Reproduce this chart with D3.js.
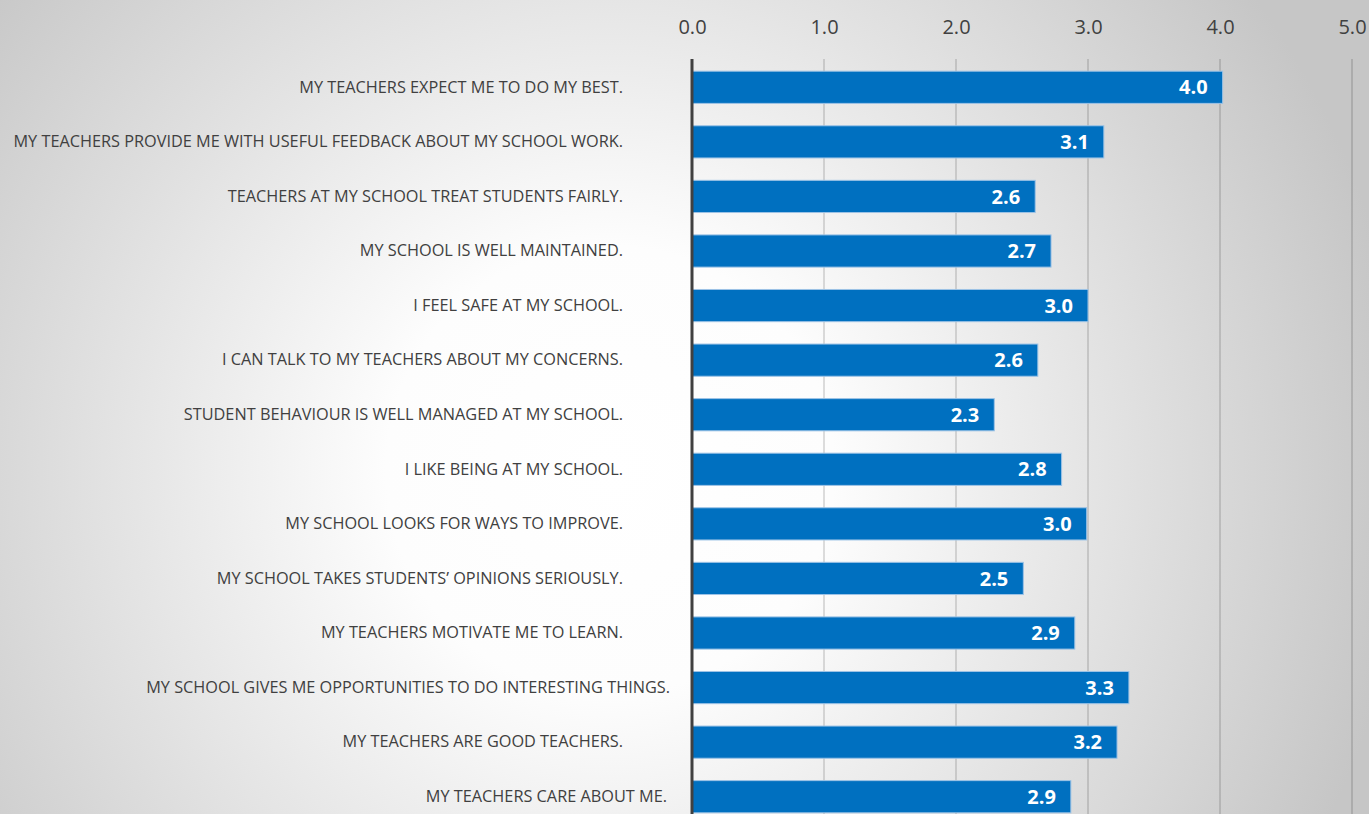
<!DOCTYPE html>
<html>
<head>
<meta charset="utf-8">
<script src="https://cdn.jsdelivr.net/npm/d3@7"></script>
<style>
html,body{margin:0;padding:0;overflow:hidden;}
svg{display:block;}
</style>
</head>
<body>
<svg id="chart" width="1369" height="814"></svg>
<script>
const categories = [
  "MY TEACHERS EXPECT ME TO DO MY BEST.",
  "MY TEACHERS PROVIDE ME WITH USEFUL FEEDBACK ABOUT MY SCHOOL WORK.",
  "TEACHERS AT MY SCHOOL TREAT STUDENTS FAIRLY.",
  "MY SCHOOL IS WELL MAINTAINED.",
  "I FEEL SAFE AT MY SCHOOL.",
  "I CAN TALK TO MY TEACHERS ABOUT MY CONCERNS.",
  "STUDENT BEHAVIOUR IS WELL MANAGED AT MY SCHOOL.",
  "I LIKE BEING AT MY SCHOOL.",
  "MY SCHOOL LOOKS FOR WAYS TO IMPROVE.",
  "MY SCHOOL TAKES STUDENTS\u2019 OPINIONS SERIOUSLY.",
  "MY TEACHERS MOTIVATE ME TO LEARN.",
  "MY SCHOOL GIVES ME OPPORTUNITIES TO DO INTERESTING THINGS.",
  "MY TEACHERS ARE GOOD TEACHERS.",
  "MY TEACHERS CARE ABOUT ME."
];
const values = [4.02, 3.12, 2.60, 2.72, 3.00, 2.62, 2.29, 2.80, 2.99, 2.51, 2.90, 3.31, 3.22, 2.87];
const valueLabels = ["4.0","3.1","2.6","2.7","3.0","2.6","2.3","2.8","3.0","2.5","2.9","3.3","3.2","2.9"];
const tickValues = [0, 1, 2, 3, 4, 5];

const W = 1369, H = 814;
const svg = d3.select("#chart");

const defs = svg.append("defs");
const grad = defs.append("radialGradient")
  .attr("id", "bg").attr("gradientUnits", "userSpaceOnUse")
  .attr("cx", 610).attr("cy", 470).attr("r", 800);
grad.append("stop").attr("offset", 0).attr("stop-color", "#ffffff");
grad.append("stop").attr("offset", 0.28).attr("stop-color", "#fdfdfd");
grad.append("stop").attr("offset", 1).attr("stop-color", "#c6c6c6");
svg.append("rect").attr("width", W).attr("height", H).attr("fill", "url(#bg)");

const x = d3.scaleLinear().domain([0, 5]).range([692, 1352]);
const y = d3.scaleBand().domain(categories).range([60, 824]).paddingInner(0.41).paddingOuter(0.205);

// gridlines
svg.append("g").selectAll("line").data(tickValues.filter(d => d > 0)).join("line")
  .attr("x1", d => x(d)).attr("x2", d => x(d))
  .attr("y1", 59).attr("y2", H)
  .attr("stroke", "rgba(0,0,0,0.2)").attr("stroke-width", 1.3);

// top axis
const xAxis = d3.axisTop(x).tickValues(tickValues).tickFormat(d3.format(".1f")).tickSize(0).tickPadding(0);
const ax = svg.append("g").attr("transform", "translate(0,34)").call(xAxis);
ax.select(".domain").remove();
ax.selectAll("text").attr("font-family", "'Open Sans', sans-serif").attr("font-size", 20).attr("fill", "#404040");

// bars
svg.append("g").selectAll("rect").data(values).join("rect")
  .attr("x", x(0)).attr("y", (d, i) => y(categories[i]))
  .attr("width", d => x(d) - x(0)).attr("height", y.bandwidth())
  .attr("fill", "#0070C0").attr("stroke", "#9DC3E6").attr("stroke-width", 1);

// value labels
svg.append("g").selectAll("text").data(values).join("text")
  .attr("x", d => x(d) - 15).attr("y", (d, i) => y(categories[i]) + y.bandwidth() / 2)
  .attr("dy", "0.36em").attr("text-anchor", "end")
  .attr("font-family", "'Open Sans', sans-serif").attr("font-weight", "bold").attr("font-size", 20)
  .attr("fill", "#ffffff").text((d, i) => valueLabels[i]);

// category labels (two labels in the original sit further right)
const labelNudge = { 11: 47, 13: 44 };
const yAxis = d3.axisLeft(y).tickSize(0).tickPadding(0);
const ay = svg.append("g").attr("transform", "translate(623,0)").call(yAxis);
ay.select(".domain").remove();
ay.selectAll("text")
  .attr("x", (d) => labelNudge[categories.indexOf(d)] || 0)
  .attr("font-family", "'Open Sans', sans-serif").attr("font-size", 16.3).attr("fill", "#404040");

// zero axis line
svg.append("line").attr("x1", x(0)).attr("x2", x(0)).attr("y1", 59).attr("y2", H)
  .attr("stroke", "#404040").attr("stroke-width", 3);
</script>
</body>
</html>
